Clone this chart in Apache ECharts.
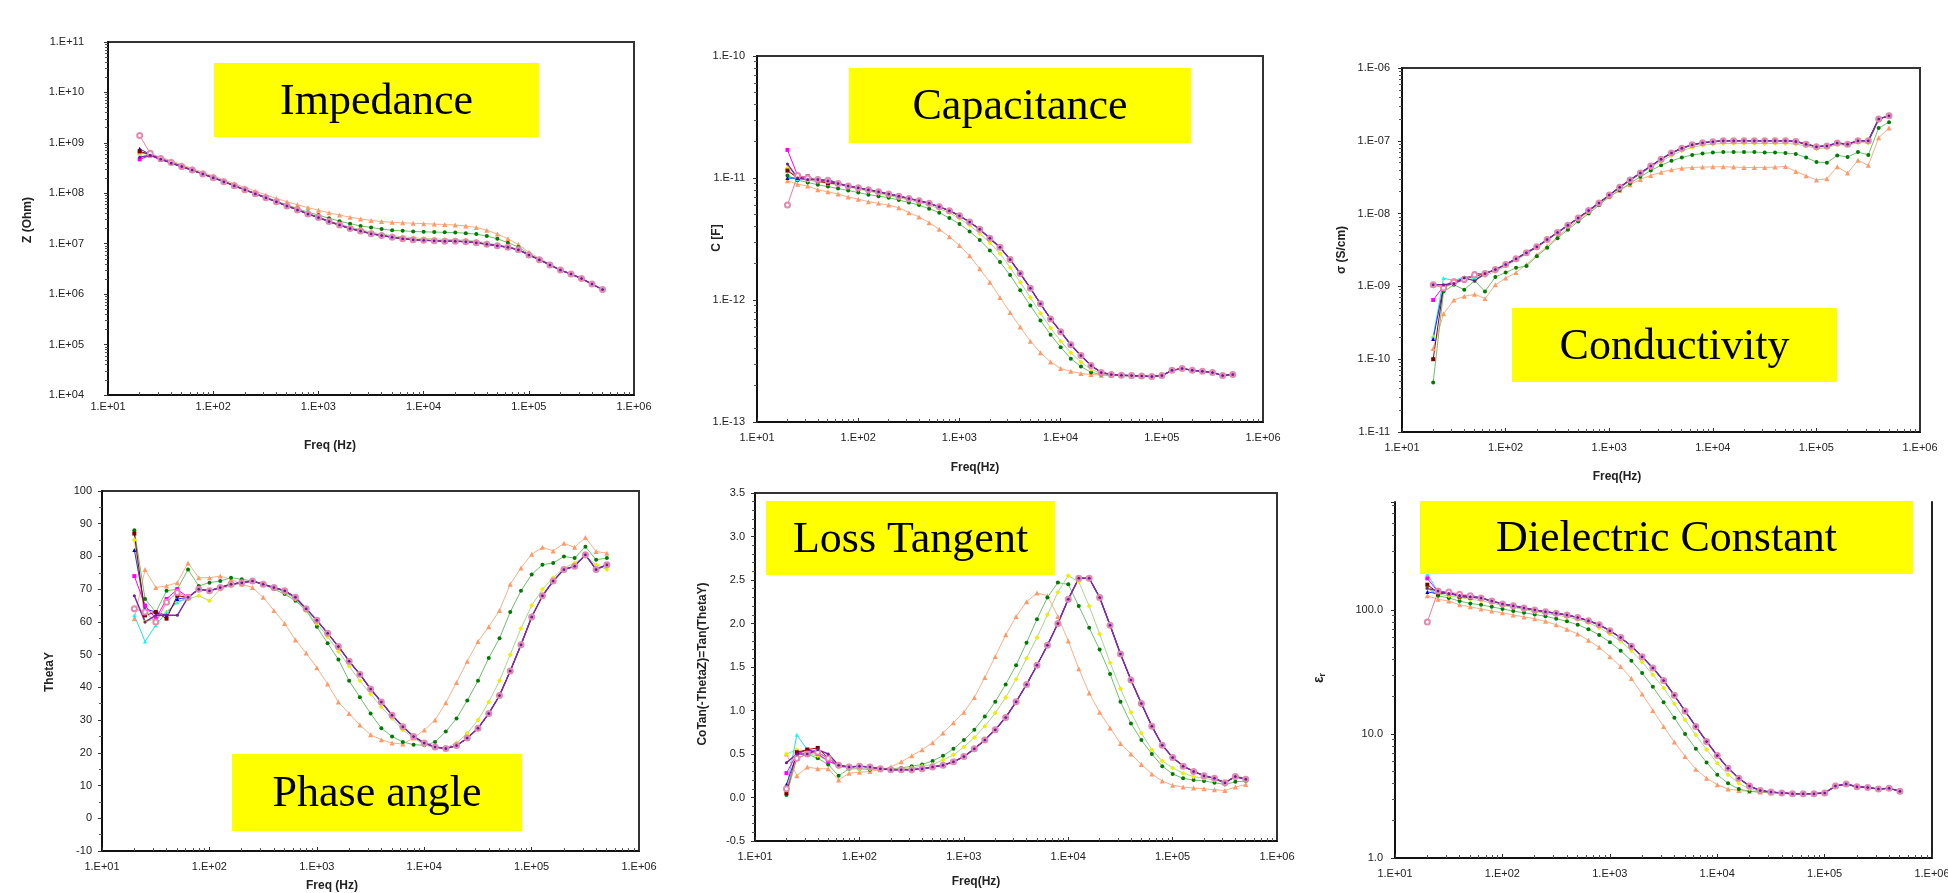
<!DOCTYPE html>
<html>
<head>
<meta charset="utf-8">
<title>Impedance spectroscopy</title>
<script src="https://cdn.jsdelivr.net/npm/echarts@6/dist/echarts.min.js"></script>
<style>
    html, body { margin: 0; padding: 0; background: #fff; }
    #chart { width: 1948px; height: 893px; }
</style>
</head>
<body>
<div id="chart"></div>
<script>
// frequencies (Hz), 10 points per decade from 20 Hz to ~500 kHz
var freq = [20, 25.18, 31.7, 39.91, 50.24, 63.25, 79.62, 100.2, 126.2, 158.9,
    200, 251.8, 317, 399.1, 502.4, 632.5, 796.2, 1002, 1262, 1589,
    2000, 2518, 3170, 3991, 5024, 6325, 7962, 10020, 12620, 15890,
    20000, 25180, 31700, 39910, 50240, 63250, 79620, 100200, 126200, 158900,
    200000, 251800, 317000, 399100, 502400]

// the six samples that sit on top of each other only differ at the first points,
// so they share a tail (point 6 onwards) and keep their own first five values.
// head order: cyan, blue, magenta, maroon, pink, purple

// ---- Impedance |Z| (Ohm)
var zOrange = [6.3e8, 6.1e8, 5.2e8, 4.4e8, 3.7e8, 3.1e8, 2.6e8, 2.2e8, 1.85e8, 1.55e8,
    1.3e8, 1.1e8, 9.3e7, 7.9e7, 6.8e7, 5.9e7, 5.2e7, 4.6e7, 4.1e7, 3.7e7,
    3.35e7, 3.1e7, 2.9e7, 2.75e7, 2.65e7, 2.6e7, 2.55e7, 2.5e7, 2.45e7, 2.4e7,
    2.35e7, 2.25e7, 2.1e7, 1.85e7, 1.55e7, 1.25e7, 9.6e6, 6.8e6, 5.1e6, 3.9e6,
    3.0e6, 2.5e6, 2.04e6, 1.58e6, 1.23e6]
var zGreen = [6.6e8, 6.0e8, 5.0e8, 4.2e8, 3.5e8, 2.95e8, 2.45e8, 2.08e8, 1.74e8, 1.45e8,
    1.2e8, 1.0e8, 8.4e7, 7.0e7, 5.9e7, 5.0e7, 4.2e7, 3.7e7, 3.2e7, 2.8e7,
    2.5e7, 2.25e7, 2.1e7, 1.95e7, 1.85e7, 1.8e7, 1.75e7, 1.72e7, 1.7e7, 1.68e7,
    1.66e7, 1.62e7, 1.55e7, 1.42e7, 1.25e7, 1.05e7, 8.6e6, 6.3e6, 4.9e6, 3.85e6,
    3.0e6, 2.5e6, 2.04e6, 1.58e6, 1.23e6]
var zYellow = [6.2e8, 5.9e8, 4.9e8, 4.1e8, 3.4e8, 2.9e8, 2.42e8, 2.05e8, 1.71e8, 1.42e8,
    1.18e8, 9.9e7, 8.2e7, 6.85e7, 5.7e7, 4.75e7, 3.98e7, 3.4e7, 2.85e7, 2.45e7,
    2.12e7, 1.9e7, 1.7e7, 1.55e7, 1.45e7, 1.37e7, 1.31e7, 1.27e7, 1.25e7, 1.22e7,
    1.2e7, 1.17e7, 1.12e7, 1.04e7, 9.5e6, 8.8e6, 7.7e6, 6.0e6, 4.8e6, 3.8e6,
    3.0e6, 2.5e6, 2.04e6, 1.58e6, 1.23e6]
var zHeads = [
    [6.5e8, 5.8e8, 4.8e8, 4.1e8, 3.4e8],
    [7.6e8, 5.9e8, 4.9e8, 4.0e8, 3.3e8],
    [4.7e8, 5.6e8, 4.6e8, 4.0e8, 3.3e8],
    [6.8e8, 5.8e8, 4.7e8, 4.1e8, 3.4e8],
    [1.4e9, 6.2e8, 4.9e8, 4.1e8, 3.4e8],
    [5.2e8, 5.7e8, 4.8e8, 4.0e8, 3.4e8]]
var zTail = [2.88e8, 2.40e8, 2.04e8, 1.70e8, 1.41e8, 1.17e8, 9.77e7, 8.13e7, 6.76e7, 5.62e7,
    4.68e7, 3.89e7, 3.31e7, 2.75e7, 2.34e7, 2.0e7, 1.78e7, 1.58e7, 1.45e7, 1.35e7,
    1.26e7, 1.20e7, 1.17e7, 1.15e7, 1.12e7, 1.12e7, 1.10e7, 1.05e7, 9.8e6, 9.1e6,
    8.5e6, 7.6e6, 6.0e6, 4.8e6, 3.8e6, 3.0e6, 2.5e6, 2.04e6, 1.58e6, 1.23e6]

// ---- Capacitance C (F)
var cOrange = [9.5e-12, 8.9e-12, 8.6e-12, 8.0e-12, 7.7e-12, 7.4e-12, 7.0e-12, 6.7e-12, 6.4e-12, 6.2e-12,
    6.0e-12, 5.7e-12, 5.2e-12, 4.8e-12, 4.3e-12, 3.8e-12, 3.3e-12, 2.8e-12, 2.3e-12, 1.8e-12,
    1.4e-12, 1.05e-12, 7.9e-13, 6.0e-13, 4.6e-13, 3.7e-13, 3.1e-13, 2.75e-13, 2.6e-13, 2.5e-13,
    2.45e-13, 2.42e-13, 2.4e-13, 2.4e-13, 2.38e-13, 2.36e-13, 2.35e-13, 2.4e-13, 2.65e-13, 2.75e-13,
    2.65e-13, 2.6e-13, 2.55e-13, 2.4e-13, 2.45e-13]
var cGreen = [1.05e-11, 9.6e-12, 9.2e-12, 8.8e-12, 8.5e-12, 8.2e-12, 7.9e-12, 7.6e-12, 7.3e-12, 7.1e-12,
    6.9e-12, 6.6e-12, 6.3e-12, 6.0e-12, 5.6e-12, 5.2e-12, 4.7e-12, 4.2e-12, 3.65e-12, 3.1e-12,
    2.55e-12, 2.05e-12, 1.6e-12, 1.2e-12, 9.0e-13, 6.8e-13, 5.2e-13, 4.1e-13, 3.3e-13, 2.85e-13,
    2.55e-13, 2.45e-13, 2.42e-13, 2.4e-13, 2.38e-13, 2.36e-13, 2.35e-13, 2.4e-13, 2.65e-13, 2.75e-13,
    2.65e-13, 2.6e-13, 2.55e-13, 2.4e-13, 2.45e-13]
var cYellow = [1.2e-11, 9.8e-12, 9.6e-12, 9.3e-12, 9.0e-12, 8.8e-12, 8.5e-12, 8.1e-12, 7.8e-12, 7.5e-12,
    7.2e-12, 6.9e-12, 6.6e-12, 6.3e-12, 6.0e-12, 5.6e-12, 5.2e-12, 4.65e-12, 4.1e-12, 3.5e-12,
    2.95e-12, 2.4e-12, 1.85e-12, 1.4e-12, 1.05e-12, 7.8e-13, 5.9e-13, 4.6e-13, 3.7e-13, 3.1e-13,
    2.7e-13, 2.5e-13, 2.45e-13, 2.42e-13, 2.4e-13, 2.38e-13, 2.36e-13, 2.4e-13, 2.65e-13, 2.75e-13,
    2.65e-13, 2.6e-13, 2.55e-13, 2.4e-13, 2.45e-13]
var cHeads = [
    [1.0e-11, 9.8e-12, 1.0e-11, 9.5e-12, 9.4e-12],
    [1.0e-11, 1.0e-11, 9.8e-12, 9.6e-12, 9.8e-12],
    [1.7e-11, 1.05e-11, 1.0e-11, 9.6e-12, 9.3e-12],
    [1.15e-11, 1.0e-11, 1.03e-11, 9.4e-12, 9.1e-12],
    [6.0e-12, 1.05e-11, 1.0e-11, 9.7e-12, 9.6e-12],
    [1.3e-11, 1.0e-11, 9.7e-12, 9.7e-12, 9.5e-12]]
var cTail = [9.0e-12, 8.6e-12, 8.3e-12, 8.0e-12, 7.7e-12, 7.4e-12, 7.1e-12, 6.8e-12, 6.5e-12, 6.2e-12,
    5.8e-12, 5.4e-12, 4.9e-12, 4.35e-12, 3.8e-12, 3.2e-12, 2.7e-12, 2.15e-12, 1.65e-12, 1.25e-12,
    9.3e-13, 7.0e-13, 5.5e-13, 4.3e-13, 3.5e-13, 2.9e-13, 2.55e-13, 2.45e-13, 2.42e-13, 2.4e-13,
    2.38e-13, 2.36e-13, 2.4e-13, 2.65e-13, 2.75e-13, 2.65e-13, 2.6e-13, 2.55e-13, 2.4e-13, 2.45e-13]

// ---- Conductivity sigma (S/cm)
var sOrange = [1.4e-10, 4.2e-10, 6.5e-10, 7.3e-10, 7.8e-10, 6.8e-10, 1.05e-9, 1.3e-9, 1.55e-9, 2.0e-9,
    2.7e-9, 3.6e-9, 4.8e-9, 6.3e-9, 8.2e-9, 1.05e-8, 1.35e-8, 1.7e-8, 2.1e-8, 2.5e-8,
    2.95e-8, 3.35e-8, 3.7e-8, 4.0e-8, 4.2e-8, 4.3e-8, 4.35e-8, 4.4e-8, 4.4e-8, 4.35e-8,
    4.3e-8, 4.3e-8, 4.3e-8, 4.35e-8, 4.45e-8, 3.8e-8, 3.3e-8, 2.9e-8, 3.0e-8, 4.4e-8,
    3.6e-8, 5.4e-8, 4.6e-8, 1.1e-7, 1.5e-7]
var sGreen = [4.8e-11, 8.5e-10, 1.05e-9, 9.0e-10, 1.2e-9, 8.5e-10, 1.35e-9, 1.55e-9, 1.8e-9, 1.9e-9,
    2.6e-9, 3.4e-9, 4.6e-9, 6.0e-9, 7.8e-9, 1.0e-8, 1.3e-8, 1.7e-8, 2.1e-8, 2.6e-8,
    3.2e-8, 3.9e-8, 4.6e-8, 5.3e-8, 5.9e-8, 6.4e-8, 6.7e-8, 6.9e-8, 7.0e-8, 7.0e-8,
    7.0e-8, 7.0e-8, 6.9e-8, 6.9e-8, 6.8e-8, 6.6e-8, 5.9e-8, 5.1e-8, 5.0e-8, 6.3e-8,
    6.0e-8, 7.0e-8, 6.4e-8, 1.5e-7, 1.8e-7]
var sYellow = [2.0e-10, 9.5e-10, 1.1e-9, 1.2e-9, 1.3e-9, 1.4e-9, 1.6e-9, 1.9e-9, 2.3e-9, 2.8e-9,
    3.4e-9, 4.3e-9, 5.4e-9, 6.8e-9, 8.6e-9, 1.08e-8, 1.38e-8, 1.75e-8, 2.25e-8, 2.8e-8,
    3.5e-8, 4.3e-8, 5.2e-8, 6.3e-8, 7.3e-8, 8.1e-8, 8.7e-8, 9.0e-8, 9.2e-8, 9.2e-8,
    9.2e-8, 9.2e-8, 9.2e-8, 9.2e-8, 9.2e-8, 9.0e-8, 8.5e-8, 7.8e-8, 8.0e-8, 8.9e-8,
    8.6e-8, 9.5e-8, 9.3e-8, 1.9e-7, 2.3e-7]
var sHeads = [
    [2.0e-10, 1.3e-9, 1.2e-9, 1.35e-9, 1.35e-9],
    [1.9e-10, 1.0e-9, 1.1e-9, 1.25e-9, 1.4e-9],
    [6.5e-10, 1.0e-9, 1.2e-9, 1.2e-9, 1.5e-9],
    [1.0e-10, 1.0e-9, 1.15e-9, 1.3e-9, 1.4e-9],
    [1.05e-9, 9.5e-10, 1.15e-9, 1.25e-9, 1.45e-9],
    [1.05e-9, 1.05e-9, 1.1e-9, 1.3e-9, 1.2e-9]]
var sTail = [1.5e-9, 1.7e-9, 2.0e-9, 2.4e-9, 2.9e-9, 3.5e-9, 4.4e-9, 5.5e-9, 6.9e-9, 8.7e-9,
    1.1e-8, 1.4e-8, 1.8e-8, 2.3e-8, 2.9e-8, 3.6e-8, 4.5e-8, 5.6e-8, 6.8e-8, 7.9e-8,
    8.8e-8, 9.4e-8, 9.7e-8, 1.0e-7, 1.0e-7, 1.0e-7, 1.0e-7, 1.0e-7, 1.0e-7, 1.0e-7,
    9.8e-8, 9.0e-8, 8.3e-8, 8.5e-8, 9.3e-8, 9.0e-8, 1.0e-7, 1.0e-7, 2.0e-7, 2.2e-7]

// ---- Phase angle ThetaY (deg)
var pOrange = [61, 76, 70.5, 71, 72, 78, 73.5, 73.5, 74, 73,
    71.5, 70.5, 67.5, 63.5, 59.5, 54.5, 50.5, 46, 41, 35.5,
    32, 28.5, 25.5, 24, 23, 22.7, 24.5, 27, 30, 35.3,
    41.5, 48, 54, 58.5, 63.5, 71.5, 76.5, 80.7, 82.8, 81.7,
    84, 82.8, 85.8, 81.5, 81]
var pGreen = [88, 67, 63, 69.5, 70, 76, 71, 72, 72.5, 73.5,
    73, 72.5, 71.5, 70, 68.5, 66.5, 63.5, 58.5, 53.5, 48.5,
    42, 37, 32, 27.5, 25, 23.3, 22.5, 22.3, 23.3, 26.5,
    30.5, 36, 42, 49, 55, 63, 69.5, 74.5, 77.5, 78,
    80, 79.5, 83, 79, 79.5]
var pYellow = [85, 60, 61, 63, 66, 67, 68, 66.5, 70, 71,
    72, 72.5, 71.5, 70.5, 69, 67, 63.5, 59.5, 55.5, 51,
    46.5, 42, 38, 34, 30.5, 27, 24.5, 22.5, 21.5, 21.5,
    23, 26, 30, 35.5, 42, 50, 58, 65, 70, 73.5,
    76.5, 78, 80, 77.5, 76]
var pHeads = [
    [62, 54, 59, 63, 66],
    [82, 64, 63, 62, 67],
    [74, 65, 61, 67, 70],
    [87, 62, 63, 61, 68],
    [64, 63, 60, 66, 69],
    [68, 60, 62, 62, 62]]
var pTail = [67.5, 70, 69.5, 70.5, 71.5, 72, 72.5, 71.5, 70.5, 69.5,
    67.5, 64, 60.5, 56.5, 52.5, 48, 44, 39.5, 35.5, 31.5,
    28, 25, 23, 21.8, 21.3, 22.2, 24.5, 27.5, 32, 37.5,
    45, 53, 61.5, 68, 72.5, 76, 77, 80.5, 76, 77.5]

// ---- Loss tangent CoTan(-ThetaZ)
var lOrange = [0.5, 0.25, 0.35, 0.33, 0.33, 0.2, 0.28, 0.29, 0.3, 0.32,
    0.35, 0.41, 0.48, 0.55, 0.63, 0.74, 0.86, 0.98, 1.15, 1.38,
    1.62, 1.87, 2.08, 2.25, 2.35, 2.32, 2.08, 1.8, 1.48, 1.2,
    0.98, 0.8, 0.62, 0.5, 0.38, 0.27, 0.19, 0.14, 0.12, 0.11,
    0.1, 0.09, 0.08, 0.12, 0.15]
var lGreen = [0.03, 0.45, 0.5, 0.45, 0.38, 0.25, 0.33, 0.33, 0.32, 0.32,
    0.33, 0.34, 0.36, 0.38, 0.42, 0.48, 0.56, 0.66, 0.78, 0.93,
    1.1, 1.3, 1.52, 1.78, 2.05, 2.3, 2.47, 2.45, 2.2, 1.95,
    1.7, 1.42, 1.1, 0.85, 0.66, 0.5, 0.36, 0.27, 0.22, 0.2,
    0.19, 0.17, 0.15, 0.18, 0.19]
var lYellow = [0.5, 0.55, 0.5, 0.48, 0.42, 0.35, 0.34, 0.33, 0.33, 0.32,
    0.32, 0.33, 0.34, 0.36, 0.38, 0.43, 0.49, 0.58, 0.69, 0.82,
    0.97, 1.15, 1.36, 1.6, 1.84, 2.1, 2.36, 2.55, 2.48, 2.2,
    1.88, 1.55, 1.25, 0.98, 0.74, 0.55, 0.42, 0.34, 0.28, 0.24,
    0.22, 0.2, 0.17, 0.25, 0.22]
var lHeads = [
    [0.1, 0.72, 0.55, 0.5, 0.42],
    [0.15, 0.5, 0.55, 0.52, 0.45],
    [0.28, 0.5, 0.55, 0.5, 0.42],
    [0.05, 0.52, 0.55, 0.57, 0.45],
    [0.1, 0.45, 0.5, 0.52, 0.45],
    [0.4, 0.5, 0.5, 0.55, 0.5]]
var lTail = [0.37, 0.35, 0.36, 0.35, 0.33, 0.32, 0.32, 0.32, 0.33, 0.35,
    0.37, 0.41, 0.47, 0.56, 0.66, 0.78, 0.92, 1.1, 1.3, 1.52,
    1.75, 2.0, 2.28, 2.52, 2.52, 2.3, 1.98, 1.65, 1.35, 1.08,
    0.82, 0.6, 0.46, 0.36, 0.3, 0.25, 0.22, 0.17, 0.24, 0.21]

// ---- Dielectric constant eps_r
var dOrange = [130, 122, 118, 110, 106, 102, 98, 95, 91, 88,
    85, 81, 76, 70, 64, 57, 50, 42, 35, 28,
    21, 15.5, 11.5, 8.6, 6.6, 5.2, 4.4, 3.9, 3.6, 3.5,
    3.45, 3.4, 3.35, 3.35, 3.3, 3.3, 3.3, 3.35, 3.8, 3.95,
    3.75, 3.7, 3.6, 3.65, 3.45]
var dGreen = [150, 130, 125, 118, 113, 110, 106, 102, 98, 95,
    92, 89, 85, 81, 76, 70, 63, 55, 47, 39,
    31, 24, 18, 13.5, 10, 7.6, 5.9, 4.7, 4.0, 3.6,
    3.45, 3.4, 3.35, 3.35, 3.3, 3.3, 3.3, 3.35, 3.8, 3.95,
    3.75, 3.7, 3.6, 3.65, 3.45]
var dYellow = [150, 135, 130, 126, 122, 119, 114, 109, 105, 101,
    97, 94, 91, 88, 84, 79, 72, 64, 56, 47,
    38, 30, 23.5, 17.5, 13, 9.8, 7.5, 5.8, 4.7, 4.0,
    3.6, 3.45, 3.4, 3.35, 3.3, 3.3, 3.3, 3.35, 3.8, 3.95,
    3.75, 3.7, 3.6, 3.65, 3.45]
var dHeads = [
    [195, 140, 138, 132, 128],
    [140, 135, 137, 130, 132],
    [180, 140, 135, 130, 127],
    [160, 138, 140, 128, 126],
    [80, 142, 140, 134, 130],
    [150, 142, 136, 131, 128]]
var dTail = [125, 118, 112, 108, 104, 100, 97, 94, 91, 87,
    82, 76, 68, 60, 51, 42, 34, 27, 20.5, 15.3,
    11.5, 8.7, 6.7, 5.3, 4.4, 3.8, 3.5, 3.4, 3.35, 3.3,
    3.3, 3.3, 3.35, 3.8, 3.95, 3.75, 3.7, 3.6, 3.65, 3.45]

// ---------------- styles ----------------
var FONT = 'Liberation Sans, Arial, sans-serif'
var styleOrange = { line: '#FFAE85', color: '#FF9966', symbol: 'triangle', size: 5, width: 1 }
var styleGreen = { line: '#6CC06C', color: '#007A00', symbol: 'circle', size: 4, width: 1 }
var styleYellow = { line: '#A6D98F', color: '#EEEE00', symbol: 'diamond', size: 5, width: 1 }
var clusterStyles = [
    { line: '#22DDEE', color: '#00FFFF', symbol: 'triangle', size: 4, width: 1 },
    { line: '#2233FF', color: '#0000CC', symbol: 'triangle', size: 4, width: 1 },
    { line: '#FF00FF', color: '#FF00FF', symbol: 'rect', size: 4, width: 1 },
    { line: '#9A0000', color: '#800000', symbol: 'rect', size: 4, width: 1 },
    { line: '#F07A9A', color: '#E58AAE', symbol: 'emptyCircle', size: 5, width: 1 },
    { line: '#7A2CA8', color: '#6A1B9A', symbol: 'circle', size: 3, width: 1.5 }
]

// plot areas (px)
var grids = [
    { left: 108, top: 42, width: 526, height: 353 },
    { left: 757, top: 56, width: 506, height: 366 },
    { left: 1402, top: 68, width: 518, height: 364 },
    { left: 102, top: 491, width: 537, height: 360 },
    { left: 755, top: 493, width: 522, height: 348 },
    { left: 1395, top: 502, width: 537, height: 356, show: false }
]
var xLabelMargin = [6, 10, 10, 10, 10, 10]
var yLabelMargin = [24, 12, 12, 10, 10, 12]

function isDecade(v) {
    var e = Math.log10(v)
    return Math.abs(e - Math.round(e)) < 1e-6
}
function sciLabel(v) {
    if (!isDecade(v)) return ''
    var e = Math.round(Math.log10(v))
    var a = Math.abs(e)
    return '1.E' + (e < 0 ? '-' : '+') + (a < 10 ? '0' + a : a)
}

function lineSeries(panel, vals, st) {
    return {
        type: 'line',
        xAxisIndex: panel,
        yAxisIndex: panel,
        data: freq.map(function(f, i) { return [f, vals[i]] }),
        symbol: st.symbol,
        symbolSize: st.size,
        showSymbol: true,
        lineStyle: { color: st.line, width: st.width },
        itemStyle: { color: st.color, borderWidth: st.symbol === 'emptyCircle' ? 1.2 : 0 },
        emphasis: { disabled: true }
    }
}

function panelSeries(panel, orange, green, yellow, heads, tail) {
    var list = [
        lineSeries(panel, orange, styleOrange),
        lineSeries(panel, green, styleGreen),
        lineSeries(panel, yellow, styleYellow)
    ]
    heads.forEach(function(h, i) {
        list.push(lineSeries(panel, h.concat(tail), clusterStyles[i]))
    })
    return list
}

var labelStyle = { fontSize: 11, color: '#222', fontFamily: FONT }

function xAxisFor(i) {
    return {
        type: 'log', logBase: 10, gridIndex: i, min: 10, max: 1e6,
        axisLine: { show: true, onZero: false, lineStyle: { color: '#111', width: 2 } },
        axisTick: { show: true, inside: true, length: 4, lineStyle: { color: '#333' } },
        minorTick: { show: true, splitNumber: 9, length: 3, lineStyle: { color: '#555' } },
        splitLine: { show: false },
        axisLabel: Object.assign({ formatter: sciLabel, margin: xLabelMargin[i] }, labelStyle)
    }
}
function yAxisFor(i, opt, fmt) {
    var label = Object.assign({ margin: yLabelMargin[i] }, labelStyle)
    if (fmt) label.formatter = fmt
    return Object.assign({
        gridIndex: i,
        axisLine: { show: true, onZero: false, lineStyle: { color: '#111', width: 2 } },
        axisTick: { show: true, inside: false, length: 4, lineStyle: { color: '#333' } },
        minorTick: { show: true, splitNumber: 9, length: 3, lineStyle: { color: '#555' } },
        splitLine: { show: false },
        axisLabel: label
    }, opt)
}

var yAxes = [
    yAxisFor(0, { type: 'log', min: 1e4, max: 1e11 }, sciLabel),
    yAxisFor(1, { type: 'log', min: 1e-13, max: 1e-10 }, sciLabel),
    yAxisFor(2, { type: 'log', min: 1e-11, max: 1e-6 }, sciLabel),
    yAxisFor(3, { type: 'value', min: -10, max: 100, interval: 10,
        minorTick: { show: true, splitNumber: 2, length: 3, lineStyle: { color: '#555' } } }),
    yAxisFor(4, { type: 'value', min: -0.5, max: 3.5, interval: 0.5,
        minorTick: { show: true, splitNumber: 5, length: 3, lineStyle: { color: '#555' } } },
        function(v) { return v.toFixed(1) }),
    yAxisFor(5, { type: 'log', min: 1, max: 743 },
        function(v) { return isDecade(v) ? v.toFixed(1) : '' }),
    // right frame line of the last panel (its top edge is hidden under the title box)
    { type: 'log', gridIndex: 5, min: 1, max: 743, position: 'right',
        axisLine: { show: true, lineStyle: { color: '#222', width: 2 } },
        axisTick: { show: false }, axisLabel: { show: false }, splitLine: { show: false } }
]

var series = []
    .concat(panelSeries(0, zOrange, zGreen, zYellow, zHeads, zTail))
    .concat(panelSeries(1, cOrange, cGreen, cYellow, cHeads, cTail))
    .concat(panelSeries(2, sOrange, sGreen, sYellow, sHeads, sTail))
    .concat(panelSeries(3, pOrange, pGreen, pYellow, pHeads, pTail))
    .concat(panelSeries(4, lOrange, lGreen, lYellow, lHeads, lTail))
    .concat(panelSeries(5, dOrange, dGreen, dYellow, dHeads, dTail))

// yellow title boxes
var boxes = [
    { x: 214, y: 63, w: 325, h: 74, text: 'Impedance' },
    { x: 849, y: 68, w: 342, h: 75, text: 'Capacitance' },
    { x: 1512, y: 308, w: 325, h: 74, text: 'Conductivity' },
    { x: 232, y: 754, w: 290, h: 77, text: 'Phase angle' },
    { x: 766, y: 501, w: 289, h: 74, text: 'Loss Tangent' },
    { x: 1420, y: 501, w: 493, h: 73, text: 'Dielectric Constant' }
]
var xTitles = [
    ['Freq (Hz)', 330, 446], ['Freq(Hz)', 975, 468], ['Freq(Hz)', 1617, 477],
    ['Freq (Hz)', 332, 886], ['Freq(Hz)', 976, 882]
]
var yTitles = [
    ['Z (Ohm)', 28, 220], ['C [F]', 717, 238], ['σ (S/cm)', 1342, 250],
    ['ThetaY', 50, 672], ['CoTan(-ThetaZ)=Tan(ThetaY)', 703, 664]
]
var titleFont = 'bold 12px ' + FONT

var graphic = []
boxes.forEach(function(b) {
    graphic.push({
        type: 'rect', z: 100, silent: true,
        shape: { x: b.x, y: b.y, width: b.w, height: b.h },
        style: { fill: '#FFFF00' }
    })
    graphic.push({
        type: 'text', z: 101, silent: true,
        x: b.x + b.w / 2, y: b.y + b.h / 2 + 2,
        style: {
            text: b.text, fill: '#000', font: '44px "Liberation Serif", "Times New Roman", serif',
            align: 'center', verticalAlign: 'middle', textAlign: 'center', textVerticalAlign: 'middle'
        }
    })
})
xTitles.forEach(function(t) {
    graphic.push({
        type: 'text', silent: true, x: t[1], y: t[2],
        style: { text: t[0], fill: '#222', font: titleFont, align: 'center', verticalAlign: 'middle',
            textAlign: 'center', textVerticalAlign: 'middle' }
    })
})
yTitles.forEach(function(t) {
    graphic.push({
        type: 'text', silent: true, x: t[1], y: t[2], rotation: Math.PI / 2,
        style: { text: t[0], fill: '#222', font: titleFont, align: 'center', verticalAlign: 'middle',
            textAlign: 'center', textVerticalAlign: 'middle' }
    })
})
graphic.push({
    type: 'text', silent: true, x: 1319, y: 678, rotation: Math.PI / 2,
    style: {
        text: '{a|ε}{b|r}', fill: '#222', align: 'center', verticalAlign: 'middle',
        textAlign: 'center', textVerticalAlign: 'middle',
        rich: {
            a: { fontSize: 14, fontWeight: 'bold', fontFamily: FONT, fill: '#222' },
            b: { fontSize: 9, fontWeight: 'bold', fontFamily: FONT, fill: '#222', padding: [7, 0, 0, 0] }
        }
    }
})

var option = {
    backgroundColor: '#fff',
    animation: false,
    grid: grids.map(function(g) {
        return Object.assign({ containLabel: false, outerBoundsMode: 'none', borderColor: '#333', borderWidth: 2 },
            g.show === false ? g : Object.assign({ show: true }, g))
    }),
    xAxis: [0, 1, 2, 3, 4, 5].map(xAxisFor),
    yAxis: yAxes,
    series: series,
    graphic: graphic
}

var myChart = echarts.init(document.getElementById('chart'))
myChart.setOption(option)
window.addEventListener('resize', function() { myChart.resize() })
</script>
</body>
</html>
